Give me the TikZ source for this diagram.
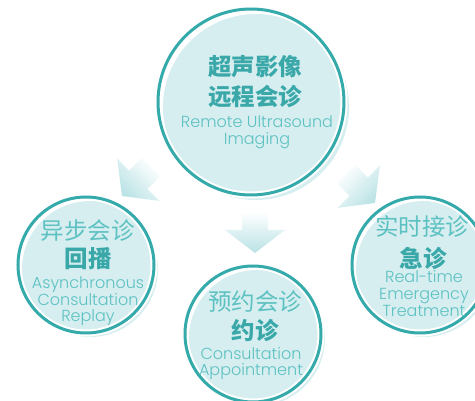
\documentclass[tikz,border=0pt]{standalone}
\usepackage{fontspec}
\setmainfont{Poppins}[UprightFont=* Light]
\newfontfamily\cjk{Noto Sans CJK SC}
\definecolor{ringc}{HTML}{35AAAB}
\definecolor{fillc}{HTML}{D6EEF0}
\definecolor{txtd}{HTML}{3AA8A9}
\definecolor{txtl}{HTML}{5DC1C2}
\definecolor{arrc}{HTML}{B9E2E5}
\tikzset{
  bubble/.style={circle, fill=fillc, inner sep=0pt},
  ringnode/.style={circle, inner sep=0pt, draw=ringc, line width=3pt,
    preaction={draw=white, line width=7pt}},
  zh/.style={anchor=base, inner sep=0pt, text=txtl, font=\cjk\fontsize{23.5}{23.5}\selectfont},
  zhb/.style={anchor=base, inner sep=0pt, text=txtd, font=\cjk\bfseries\fontsize{23.5}{23.5}\selectfont},
  en/.style={anchor=base, inner sep=0pt, text=txtl, font=\fontsize{16}{16}\selectfont},
  blockarrow/.style={top color=white, bottom color=arrc},
}
\begin{document}
\begin{tikzpicture}[x=1pt, y=-1pt]
\useasboundingbox (0,0) rectangle (475,401);
\clip (0,0) rectangle (475,401);
% filled discs (offset)
\node[bubble, minimum size=186pt] (topf) at (256,107) {};
\node[bubble, minimum size=136pt] (leftf) at (90,269) {};
\node[bubble, minimum size=136pt] (botf) at (257,338) {};
\node[bubble, minimum size=136pt] (rightf) at (424,269) {};
% rings
\node[ringnode, minimum size=186pt] (top) at (251,102) {};
\node[ringnode, minimum size=136pt] (left) at (86,265) {};
\node[ringnode, minimum size=136pt] (bot) at (253,334) {};
\node[ringnode, minimum size=136pt] (right) at (420,265) {};
% arrows
\shade[blockarrow] (242,212) -- (268,212) -- (268,230) -- (285,230) -- (255,253)
  -- (225,230) -- (242,230) -- cycle;
\shade[blockarrow, shading angle=-45] (141.8,157.8) -- (160.2,176.2) -- (147.5,188.9)
  -- (159.5,200.9) -- (122.0,196.0) -- (117.1,158.5) -- (129.1,170.5) -- cycle;
\shade[blockarrow, shading angle=45] (336.8,183.2) -- (355.2,164.8) -- (367.9,177.5)
  -- (379.9,165.5) -- (375.0,203.0) -- (337.5,207.9) -- (349.5,195.9) -- cycle;
% top text
\node[zhb] (t1) at (255,76) {超声影像};
\node[zhb] (t2) at (255,106) {远程会诊};
\node[en] (t3) at (257,128) {Remote Ultrasound};
\node[en] (t4) at (257,145) {Imaging};
% left text
\node[zh] (l1) at (88,240) {异步会诊};
\node[zhb] (l2) at (88,268) {回播};
\node[en] (l3) at (88,289) {Asynchronous};
\node[en] (l4) at (88,306) {Consultation};
\node[en] (l5) at (88,322) {Replay};
% bottom text
\node[zh] (b1) at (255,311) {预约会诊};
\node[zhb] (b2) at (255,340) {约诊};
\node[en] (b3) at (251,360) {Consultation};
\node[en] (b4) at (251,376) {Appointment};
% right text
\node[zh] (r1) at (422,236) {实时接诊};
\node[zhb] (r2) at (423,268) {急诊};
\node[en] (r3) at (424,283) {Real-time};
\node[en] (r4) at (424,300) {Emergency};
\node[en] (r5) at (424,317) {Treatment};
\end{tikzpicture}
\end{document}
